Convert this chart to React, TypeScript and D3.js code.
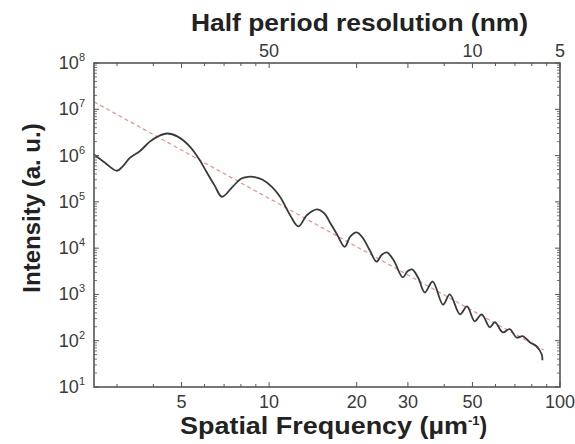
import React from "react";
import * as d3 from "d3";

// Spatial frequency (µm^-1) and measured intensity (a.u.)
const freq = [
  2.5, 2.72, 3.0, 3.15, 3.32, 3.6, 3.89, 4.15, 4.46, 4.85, 5.35, 5.75, 6.11, 6.5, 6.88,
  7.5, 8.0, 8.45, 9.0, 9.5, 10.2, 10.9, 11.8, 12.6, 13.5, 14.6, 15.5, 16.2, 17.1, 18.2,
  19.0, 20.0, 21.0, 22.2, 23.4, 24.4, 25.4, 26.8, 28.8, 29.9, 31.0, 32.6, 34.3, 36.5,
  39.6, 41.8, 45.3, 47.9, 50.9, 53.8, 57.4, 59.7, 63.6, 67.1, 71.0, 74.5, 78.7, 83.0,
  86.5, 87.0,
];
const intensity = [
  1.05e6, 7.1e5, 4.7e5, 6.0e5, 8.9e5, 1.26e6, 2.0e6, 2.6e6, 3.0e6, 2.57e6, 1.55e6, 8.3e5,
  4.3e5, 2.24e5, 1.29e5, 2.14e5, 3.16e5, 3.47e5, 3.4e5, 3.0e5, 2.14e5, 1.29e5, 5.2e4,
  2.95e4, 5.2e4, 6.9e4, 5.6e4, 3.55e4, 2.0e4, 1.07e4, 1.78e4, 2.19e4, 1.66e4, 8.9e3,
  5.1e3, 7.2e3, 8.1e3, 5.5e3, 2.34e3, 3.16e3, 3.47e3, 2.24e3, 1.1e3, 1.9e3, 600, 1000,
  372, 550, 263, 372, 195, 251, 151, 178, 117, 126, 93, 76, 51, 38,
];

// Power-law fit (dashed)
const fitFreq = [2.5, 88];
const fitIntensity = [1.45e7, 63];

// Axis ticks
const xTickLabels = [5, 10, 20, 30, 50, 100];
const topTickFreq = [10, 50, 100];
const topTickLabels = ["50", "10", "5"];
const yDecades = [1, 2, 3, 4, 5, 6, 7, 8];

export default function App() {
  const W = 575;
  const H = 444;
  const L = 94, R = 560, T = 63, B = 387;
  const x = d3.scaleLog().domain([2.5, 100]).range([L, R]);
  const y = d3.scaleLog().domain([10, 1e8]).range([B, T]);

  const line = d3
    .line<number>()
    .x((_, i) => x(freq[i]))
    .y((_, i) => y(intensity[i]))
    .curve(d3.curveCatmullRom.alpha(0.5));
  const fitLine = d3
    .line<number>()
    .x((_, i) => x(fitFreq[i]))
    .y((_, i) => y(fitIntensity[i]));

  const xMinor: number[] = [];
  for (const dec of [1, 10]) {
    for (let k = 1; k <= 10; k++) {
      const v = k * dec;
      if (v >= 2.5 && v <= 100 && !xMinor.includes(v)) xMinor.push(v);
    }
  }
  const yMinor: number[] = [];
  for (let e = 1; e < 8; e++) {
    for (let k = 2; k <= 9; k++) yMinor.push(k * Math.pow(10, e));
  }

  const axisColor = "#555";
  const textColor = "#3a3a3a";
  const font = "Liberation Sans, Arial, Helvetica, sans-serif";

  return (
    <svg
      width={W}
      height={H}
      style={{ position: "absolute", left: 0, top: 0, background: "#fff" }}
      fontFamily={font}
    >
      {/* fit line */}
      <path
        d={fitLine(fitFreq) || ""}
        fill="none"
        stroke="#e37b7b"
        strokeWidth={1.2}
        strokeDasharray="4 3"
        opacity={0.85}
      />
      {/* data curve */}
      <path d={line(freq) || ""} fill="none" stroke="#3a3a3a" strokeWidth={1.8} />

      {/* frame */}
      <rect x={L} y={T} width={R - L} height={B - T} fill="none" stroke={axisColor} strokeWidth={1.6} />

      {/* x ticks bottom & top */}
      {xMinor.map((v) => {
        const len = xTickLabels.includes(v) ? 5 : 3;
        return (
          <g key={"xt" + v}>
            <line x1={x(v)} x2={x(v)} y1={B} y2={B - len} stroke={axisColor} strokeWidth={1} />
            <line x1={x(v)} x2={x(v)} y1={T} y2={T + len} stroke={axisColor} strokeWidth={1} />
          </g>
        );
      })}
      {/* y ticks left & right */}
      {yDecades.map((e) => (
        <g key={"yt" + e}>
          <line x1={L} x2={L + 5} y1={y(Math.pow(10, e))} y2={y(Math.pow(10, e))} stroke={axisColor} strokeWidth={1} />
          <line x1={R} x2={R - 5} y1={y(Math.pow(10, e))} y2={y(Math.pow(10, e))} stroke={axisColor} strokeWidth={1} />
        </g>
      ))}
      {yMinor.map((v) => (
        <g key={"ym" + v}>
          <line x1={L} x2={L + 3} y1={y(v)} y2={y(v)} stroke={axisColor} strokeWidth={0.8} />
          <line x1={R} x2={R - 3} y1={y(v)} y2={y(v)} stroke={axisColor} strokeWidth={0.8} />
        </g>
      ))}

      {/* y tick labels */}
      {yDecades.map((e) => (
        <text
          key={"yl" + e}
          x={85}
          y={y(Math.pow(10, e)) + 6}
          textAnchor="end"
          fontSize={18}
          fill={textColor}
        >
          10
          <tspan dy={-8} fontSize={11}>
            {e}
          </tspan>
        </text>
      ))}

      {/* bottom tick labels */}
      {xTickLabels.map((v) => (
        <text key={"xl" + v} x={x(v)} y={408} textAnchor="middle" fontSize={18} fill={textColor}>
          {v}
        </text>
      ))}

      {/* top tick labels */}
      {topTickFreq.map((v, i) => (
        <text key={"tl" + v} x={x(v)} y={57} textAnchor="middle" fontSize={18} fill={textColor}>
          {topTickLabels[i]}
        </text>
      ))}

      {/* titles */}
      <text
        x={191}
        y={31}
        fontSize={23}
        fontWeight="bold"
        fill="#222"
        textLength={337}
        lengthAdjust="spacingAndGlyphs"
      >
        Half period resolution (nm)
      </text>
      <text x={180} y={434} fontSize={23} fontWeight="bold" fill="#222">
        <tspan textLength={288} lengthAdjust="spacingAndGlyphs">Spatial Frequency (µm</tspan>
        <tspan dy={-9} fontSize={13}>
          -1
        </tspan>
        <tspan dy={9}>)</tspan>
      </text>
      <text
        transform="translate(40,208) rotate(-90)"
        textAnchor="middle"
        fontSize={24}
        fontWeight="bold"
        fill="#222"
      >
        Intensity (a. u.)
      </text>
    </svg>
  );
}
